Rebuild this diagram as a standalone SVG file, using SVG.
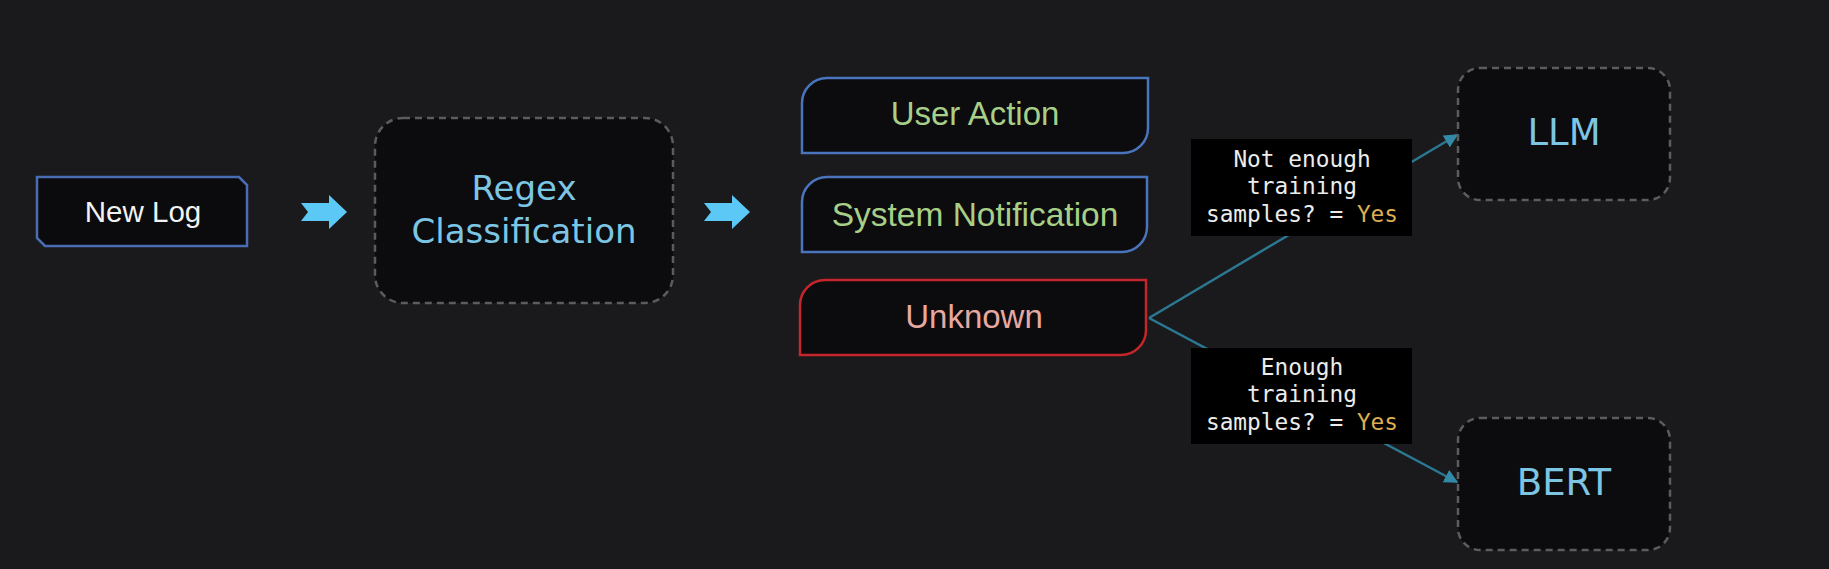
<svg xmlns="http://www.w3.org/2000/svg" width="1829" height="569" viewBox="0 0 1829 569">
<defs>
<style>
.bg{fill:#1a1a1c}
.dash{fill:#0c0b0d;stroke:#5c5c5e;stroke-width:2.5;stroke-dasharray:7 5}
.tab{fill:#0c0b0d;stroke:#4a74bd;stroke-width:2.5}
.tabred{fill:#0c0b0d;stroke:#c4262b;stroke-width:2.5}
.sans{font-family:"Liberation Sans",Arial,sans-serif;text-anchor:middle}
.tech{font-family:"DejaVu Sans",sans-serif;text-anchor:middle;fill:#7cc6e4}
.green{fill:#a8cf88}
.mono{font-family:"DejaVu Sans Mono","Liberation Mono",monospace;font-size:22.8px;fill:#ececec;text-anchor:middle}
.yes{fill:#dcae52}
.conn{stroke:#2b7893;stroke-width:2.5;fill:none}
.lbl{fill:#000000}
.flow{fill:#5bc8f5}
</style>
<marker id="ah" viewBox="0 0 10 10" refX="9" refY="5" markerWidth="14" markerHeight="14" markerUnits="userSpaceOnUse" orient="auto">
<path d="M0,0 L10,5 L0,10 Z" fill="#3389a8"/>
</marker>
<path id="chev" d="M0,0 L28,0 L28,-8 L46,9 L28,26 L28,18 L0,18 L7,9 Z"/>
</defs>
<rect class="bg" x="0" y="0" width="1829" height="569"/>

<g id="flow-arrows">
<use href="#chev" class="flow" x="301" y="203"/>
<use href="#chev" class="flow" x="704" y="203"/>
</g>

<g id="connectors">
<line class="conn" x1="1149" y1="318" x2="1457" y2="135" marker-end="url(#ah)"/>
<line class="conn" x1="1149" y1="318" x2="1457" y2="482" marker-end="url(#ah)"/>
<g id="label-llm">
<rect class="lbl" x="1191" y="139" width="221" height="97"/>
<text class="mono" x="1302" y="167">Not enough</text>
<text class="mono" x="1302" y="194">training</text>
<text class="mono" x="1302" y="222">samples? = <tspan class="yes">Yes</tspan></text>
</g>
<g id="label-bert">
<rect class="lbl" x="1191" y="348" width="221" height="96"/>
<text class="mono" x="1302" y="375">Enough</text>
<text class="mono" x="1302" y="402">training</text>
<text class="mono" x="1302" y="430">samples? = <tspan class="yes">Yes</tspan></text>
</g>
</g>

<g id="node-newlog">
<path d="M37,177 L239,177 L247,185 L247,246 L45,246 L37,238 Z" fill="#0b0a0c" stroke="#4a6cb5" stroke-width="2.5"/>
<text class="sans" x="143" y="222" font-size="29.5" fill="#f2f2f2">New Log</text>
</g>

<g id="node-regex">
<rect class="dash" x="375" y="118" width="298" height="185" rx="28"/>
<text class="tech" x="524" y="200" font-size="34">Regex</text>
<text class="tech" x="524" y="243" font-size="34">Classification</text>
</g>

<g id="node-user-action">
<path class="tab" d="M827,78 H1148 V128 A25,25 0 0 1 1123,153 H802 V103 A25,25 0 0 1 827,78 Z"/>
<text class="sans green" x="975" y="125" font-size="33">User Action</text>
</g>

<g id="node-system-notification">
<path class="tab" d="M827,177 H1147 V227 A25,25 0 0 1 1122,252 H802 V202 A25,25 0 0 1 827,177 Z"/>
<text class="sans green" x="975" y="226" font-size="33.5">System Notification</text>
</g>

<g id="node-unknown">
<path class="tabred" d="M825,280 H1146 V330 A25,25 0 0 1 1121,355 H800 V305 A25,25 0 0 1 825,280 Z"/>
<text class="sans" x="974" y="328" font-size="33" fill="#e6a9a0">Unknown</text>
</g>

<g id="node-llm">
<rect class="dash" x="1458" y="68" width="212" height="132" rx="22"/>
<text class="tech" x="1564" y="145" font-size="37">LLM</text>
</g>

<g id="node-bert">
<rect class="dash" x="1458" y="418" width="212" height="132" rx="22"/>
<text class="tech" x="1564" y="495" font-size="37">BERT</text>
</g>
</svg>
